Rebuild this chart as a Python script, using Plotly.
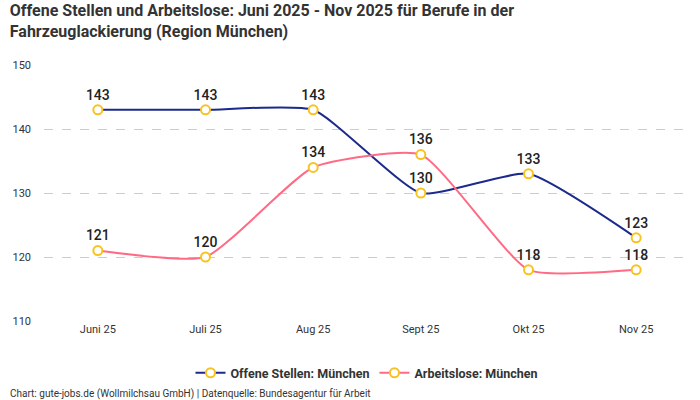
import plotly.graph_objects as go

months = ['Juni 25', 'Juli 25', 'Aug 25', 'Sept 25', 'Okt 25', 'Nov 25']
offene_stellen = [143, 143, 143, 130, 133, 123]
arbeitslose = [121, 120, 134, 136, 118, 118]

FONT = 'Roboto'
BLUE = '#1b2a8c'
PINK = '#ff6b84'
YELLOW = '#f9c31f'


def make_trace(values, name, color):
    return go.Scatter(
        x=months,
        y=values,
        name=name,
        mode='lines+markers+text',
        line=dict(color=color, width=2, shape='spline', smoothing=0.5),
        marker=dict(size=9, color='white', line=dict(color=YELLOW, width=2)),
        text=[str(v) for v in values],
        textposition='top center',
        textfont=dict(family=FONT, size=14, color='#222', weight=500),
        cliponaxis=False,
    )


fig = go.Figure(data=[
    make_trace(offene_stellen, 'Offene Stellen: München', BLUE),
    make_trace(arbeitslose, 'Arbeitslose: München', PINK),
])

fig.update_layout(
    width=700, height=400,
    margin=dict(l=44, r=10, t=65, b=79, autoexpand=False),
    paper_bgcolor='white', plot_bgcolor='white',
    font=dict(family=FONT, color='#333'),
    title=dict(
        text='<b>Offene Stellen und Arbeitslose: Juni 2025 - Nov 2025 für Berufe in der<br>Fahrzeuglackierung (Region München)</b>',
        x=0.014, xanchor='left', y=0.96, yanchor='top',
        font=dict(family=FONT, size=16, color='#333'),
    ),
    legend=dict(
        orientation='h', x=0.5, xanchor='center', y=-0.145, yanchor='top',
        font=dict(family=FONT, size=12.5, color='#333', weight='bold'),
    ),
    annotations=[dict(
        text='Chart: gute-jobs.de (Wollmilchsau GmbH) | Datenquelle: Bundesagentur für Arbeit',
        xref='paper', yref='paper', x=-0.056, y=-0.255, xanchor='left', yanchor='top',
        showarrow=False, font=dict(family=FONT, size=10, color='#333'),
    )],
)

fig.update_xaxes(
    range=[-0.5, 5.5],
    showgrid=False, showline=False, zeroline=False,
    tickfont=dict(family=FONT, size=11, color='#333'), ticks='',
)
fig.update_yaxes(
    range=[110, 150], dtick=10,
    showgrid=True, gridcolor='#cccccc', griddash='dash', gridwidth=1,
    zeroline=False, showline=False, ticklabelstandoff=12,
    tickfont=dict(family=FONT, size=11, color='#333'), ticks='',
)

fig.write_html('out.html', config={'displayModeBar': False},
               post_script="document.body.style.margin='0';")
